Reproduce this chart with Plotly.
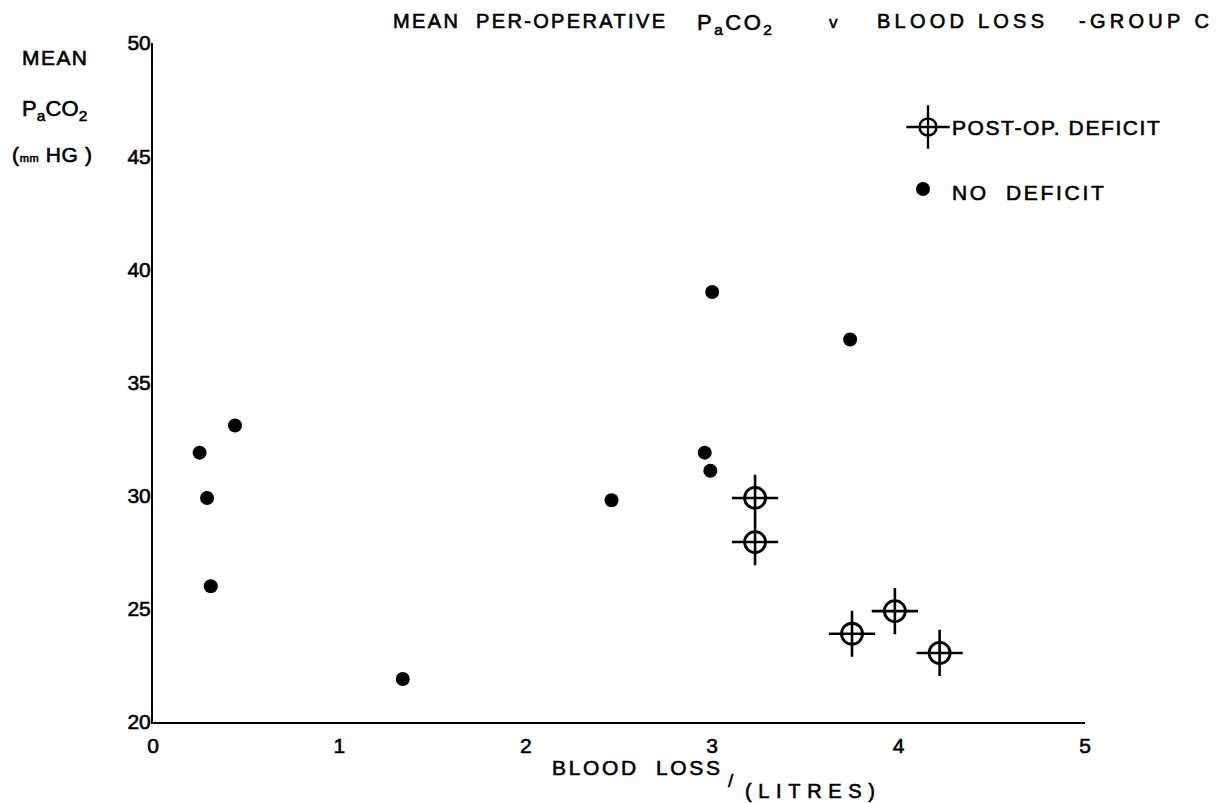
import json
import plotly.graph_objects as go

# Blood loss (litres) and mean per-operative PaCO2 (mm Hg), group C
no_deficit_loss = [0.25, 0.29, 0.31, 0.44, 1.34, 2.46, 2.96, 2.99, 3.00, 3.74]
no_deficit_paco2 = [31.9, 29.9, 26.0, 33.1, 21.9, 29.8, 31.9, 31.1, 39.0, 36.9]
deficit_loss = [3.23, 3.23, 3.75, 3.98, 4.22]
deficit_paco2 = [29.9, 27.95, 23.9, 24.9, 23.05]

x_ticks = [0, 1, 2, 3, 4, 5]
y_ticks = [20, 25, 30, 35, 40, 45, 50]

W, H = 1220, 803
L, R, T, B = 153, 1085, 43, 722  # plot area in pixels


def px(x):
    return (x - L) / (R - L)


def py(y):
    return (B - y) / (B - T)


INK = "black"
FONT = "Liberation Sans, Arial, sans-serif"
NB = "\u00a0"

fig = go.Figure()

# no-deficit patients: solid dots
fig.add_trace(go.Scatter(
    x=no_deficit_loss, y=no_deficit_paco2, mode="markers",
    marker=dict(symbol="circle", size=14, color=INK),
    showlegend=False, hoverinfo="x+y"))

# post-op deficit patients: circle with cross-hair
fig.add_trace(go.Scatter(
    x=deficit_loss, y=deficit_paco2, mode="markers",
    marker=dict(symbol="circle-open", size=21, color=INK, line=dict(width=2.8, color=INK)),
    showlegend=False, hoverinfo="x+y"))
fig.add_trace(go.Scatter(
    x=deficit_loss, y=deficit_paco2, mode="markers",
    marker=dict(symbol="cross-thin-open", size=33, color=INK, line=dict(width=2.6, color=INK)),
    showlegend=False, hoverinfo="skip"))

# key symbols on an overlay axis spanning the plot area
fig.add_trace(go.Scatter(
    x=[px(928)], y=[py(127)], xaxis="x2", yaxis="y2", mode="markers",
    marker=dict(symbol="circle-open", size=17, color=INK, line=dict(width=2.5, color=INK)),
    showlegend=False, hoverinfo="skip"))
fig.add_trace(go.Scatter(
    x=[px(928)], y=[py(127)], xaxis="x2", yaxis="y2", mode="markers",
    marker=dict(symbol="cross-thin-open", size=31, color=INK, line=dict(width=2.3, color=INK)),
    showlegend=False, hoverinfo="skip"))
fig.add_trace(go.Scatter(
    x=[px(923)], y=[py(189)], xaxis="x2", yaxis="y2", mode="markers",
    marker=dict(symbol="circle", size=14, color=INK),
    showlegend=False, hoverinfo="skip"))

annotations = []
spread = {}  # annotation index -> width in px the lettering is spaced out to


def label(text, x, y, size=21, width=None):
    if width:
        spread[len(annotations)] = width
    annotations.append(dict(
        text=text, x=px(x), y=py(y), xref="paper", yref="paper",
        xanchor="left", yanchor="middle", align="left", showarrow=False,
        font=dict(family=FONT, size=size, color=INK)))


# title
label("MEAN" + NB * 2 + "PER-OPERATIVE", 391, 21, size=20, width=272)
label("P<sub>a</sub>CO<sub>2</sub>", 695, 24, size=22, width=85)
label("v", 827, 22, size=17)
label("BLOOD" + NB + "LOSS", 875, 21, size=20, width=167)
label("-GROUP" + NB + "C", 1077, 21, size=20, width=130)

# y-axis title
label("MEAN", 20, 57, size=21, width=65)
label("P<sub>a</sub>CO<sub>2</sub>", 20, 110, size=22, width=66)
label("(<span style='font-size:11px'>mm</span>" + NB + "HG" + NB + ")", 10, 154, size=21, width=80)

# x-axis title
label("BLOOD" + NB * 2 + "LOSS", 550, 767, size=21, width=168)
label("/", 726, 781, size=19)
label("(LITRES)", 743, 791, size=20, width=130)

# key text
label("POST-OP." + NB + "DEFICIT", 950, 127, size=21, width=208)
label("NO" + NB * 2 + "DEFICIT", 950, 192, size=21, width=152)

fig.update_layout(
    width=W, height=H,
    margin=dict(l=L, r=W - R, t=T, b=H - B, pad=0),
    paper_bgcolor="white", plot_bgcolor="white",
    annotations=annotations,
    xaxis=dict(
        range=[0, 5], tickvals=x_ticks, ticktext=[str(v) for v in x_ticks],
        showgrid=False, zeroline=False, showline=True, linecolor=INK, linewidth=2,
        ticks="", ticklabelstandoff=4,
        tickfont=dict(family=FONT, size=21, color=INK)),
    yaxis=dict(
        range=[20, 50], tickvals=y_ticks, ticktext=[str(v) for v in y_ticks],
        showgrid=False, zeroline=False, showline=True, linecolor=INK, linewidth=2,
        ticks="", ticklabelstandoff=-4,
        tickfont=dict(family=FONT, size=21, color=INK)),
    xaxis2=dict(range=[0, 1], overlaying="x", visible=False, fixedrange=True),
    yaxis2=dict(range=[0, 1], overlaying="y", visible=False, fixedrange=True),
    showlegend=False,
)

# widen the lettering of the labels to their typewritten widths and give
# all lettering a slightly heavier stroke
post = """
var spread = %s;
document.querySelectorAll('g.annotation').forEach(function (g) {
  var w = spread[g.getAttribute('data-index')];
  if (!w) return;
  var t = g.querySelector('text.annotation-text');
  var n = t.textContent.length;
  var len = t.getBBox().width;
  if (n > 1) t.style.letterSpacing = ((w - len) / (n - 1)) + 'px';
});
document.querySelectorAll('svg text').forEach(function (t) {
  t.style.stroke = 'black';
  t.style.strokeWidth = '0.6px';
});
""" % json.dumps({str(k): v for k, v in spread.items()})

fig.write_html("out.html", post_script=post)
